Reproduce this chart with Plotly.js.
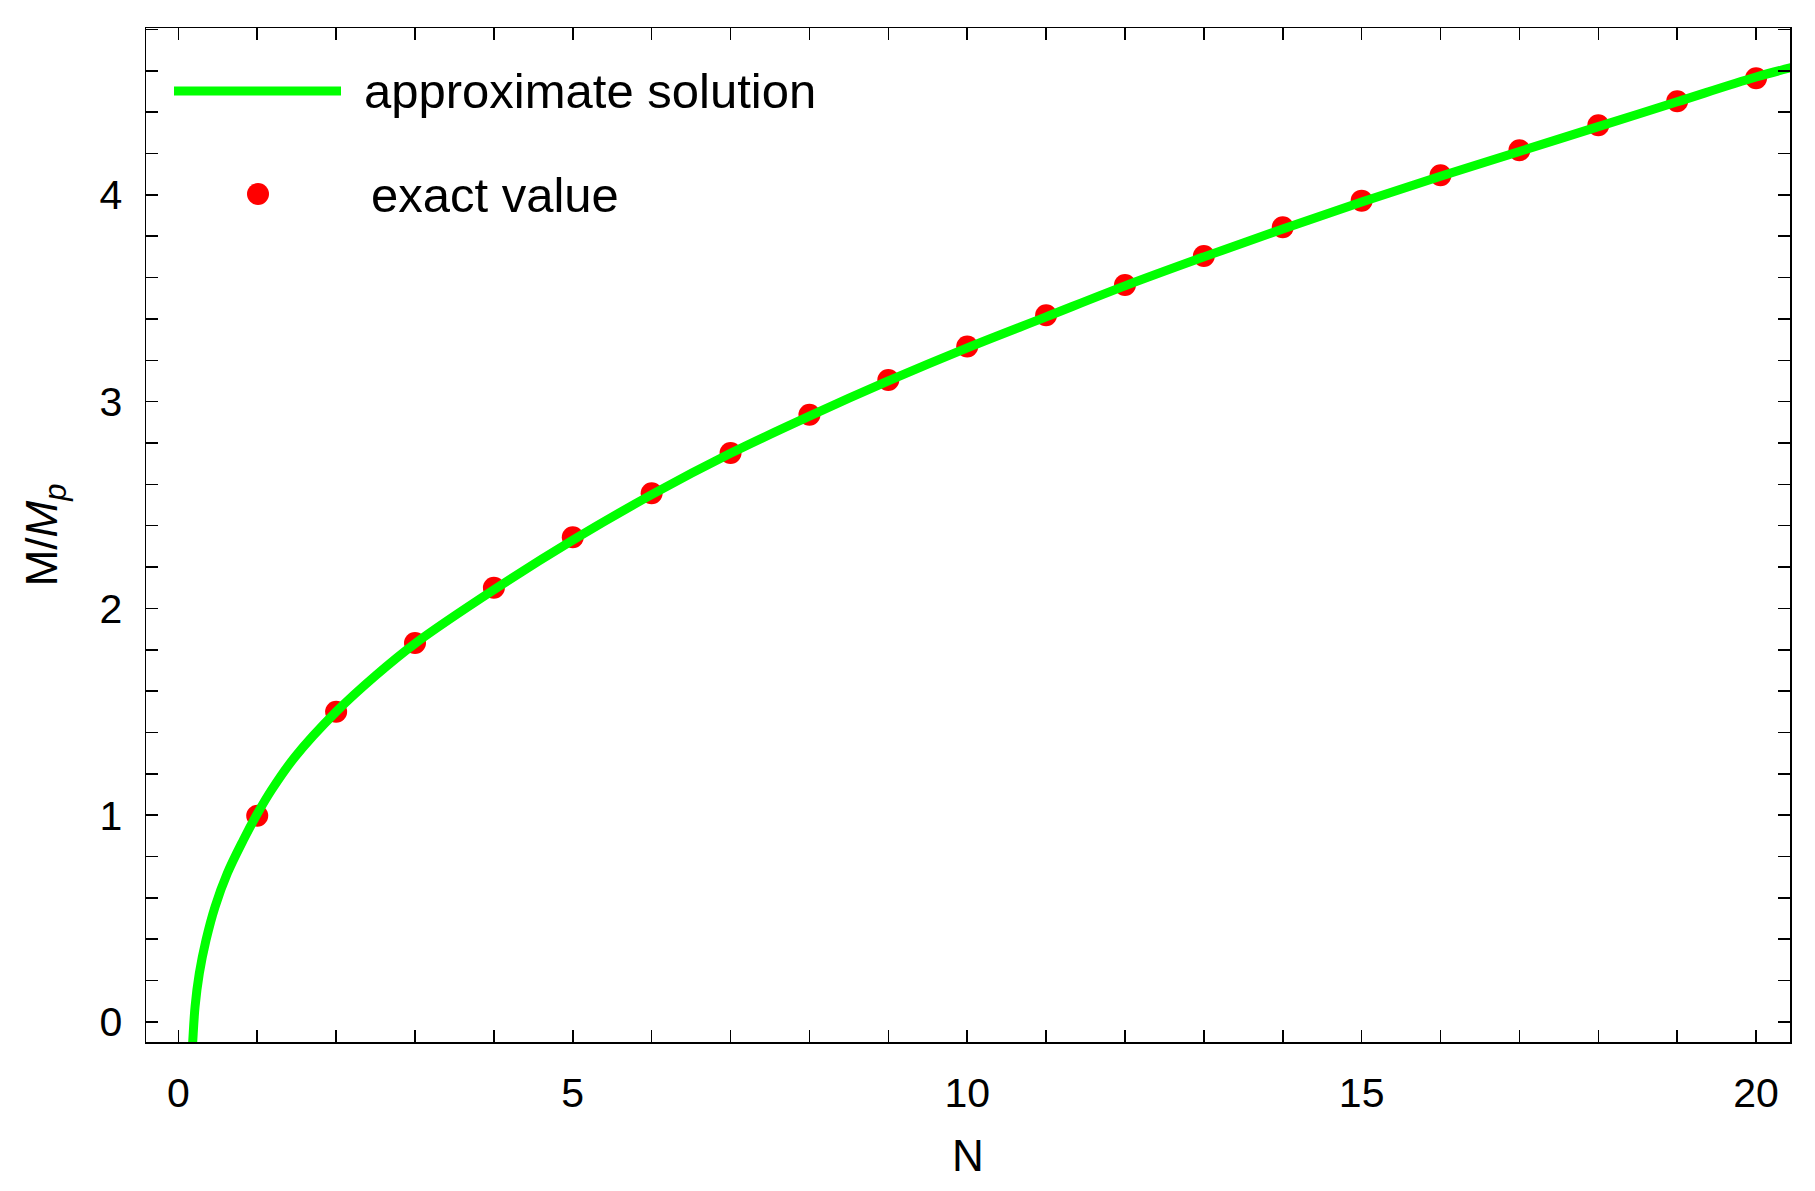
<!DOCTYPE html>
<html>
<head>
<meta charset="utf-8">
<script src="https://cdn.plot.ly/plotly-3.0.1.min.js"></script>
<style>
  html, body { margin: 0; padding: 0; background: #fff; }
  #chart { width: 1815px; height: 1191px; }
</style>
</head>
<body>
<div id="chart"></div>
<script>
// exact values at integer N
const exactN = [1, 2, 3, 4, 5, 6, 7, 8, 9, 10, 11, 12, 13, 14, 15, 16, 17, 18, 19, 20];
const exactM = [0.997, 1.50, 1.833, 2.10, 2.344, 2.557, 2.752, 2.937, 3.105, 3.267,
                3.418, 3.564, 3.704, 3.843, 3.972, 4.095, 4.216, 4.337, 4.453, 4.564];

// approximate solution curve, sampled along the drawn line
const approxN = [0.172, 0.182, 0.212, 0.266, 0.351, 0.465, 0.621, 0.824, 0.985, 1.18, 1.479, 2.0, 2.5, 3.0,
                 4, 5, 6, 7, 8, 9, 10, 11, 12, 13, 14, 15, 16, 17, 18, 19, 20, 20.6];
const approxM = [-0.16, -0.097, 0.074, 0.235, 0.396, 0.557, 0.719, 0.88, 0.996, 1.121, 1.282, 1.5, 1.675, 1.83,
                 2.09, 2.33, 2.55, 2.75, 2.93, 3.10, 3.26, 3.41, 3.56, 3.70, 3.835, 3.965, 4.09, 4.21, 4.33, 4.45, 4.57, 4.63];

const xTicks = [0, 5, 10, 15, 20];
const yTicks = [0, 1, 2, 3, 4];

const legendLabels = ['approximate solution', 'exact value'];

const W = 1815, H = 1191;
const L = 146, R = 1790, T = 28, B = 1042;
// pixel -> paper helpers for the hand-placed legend
const px = x => (x - L) / (R - L);
const py = y => (B - y) / (B - T);

const font = 'Liberation Sans, Arial, sans-serif';

const traces = [
    {
        x: exactN, y: exactM,
        type: 'scatter', mode: 'markers',
        marker: { color: 'rgb(255,0,0)', size: 22 },
        showlegend: false
    },
    {
        x: approxN, y: approxM,
        type: 'scatter', mode: 'lines',
        line: { color: 'rgb(0,255,0)', width: 9, shape: 'spline', smoothing: 1 },
        showlegend: false
    }
];

const axisCommon = {
    showline: true, linecolor: '#000', linewidth: 1.5,
    mirror: 'ticks', ticks: 'inside', ticklen: 12, tickwidth: 1.5, tickcolor: '#000',
    showgrid: false, zeroline: false,
    tickfont: { family: font, size: 41, color: '#000' }
};

const layout = {
    width: W, height: H,
    margin: { l: L, r: W - R, t: T, b: H - B },
    paper_bgcolor: '#fff', plot_bgcolor: '#fff',
    xaxis: Object.assign({}, axisCommon, {
        range: [-0.41, 20.43],
        tickvals: xTicks, ticktext: xTicks.map(String),
        minor: { dtick: 1, ticks: 'inside', ticklen: 12, tickwidth: 1.5, tickcolor: '#000' },
        ticklabelstandoff: 14,
        title: { text: 'N', font: { family: font, size: 44, color: '#000' }, standoff: 25 }
    }),
    yaxis: Object.assign({}, axisCommon, {
        range: [-0.097, 4.807],
        tickvals: yTicks, ticktext: yTicks.map(String),
        minor: { dtick: 0.2, ticks: 'inside', ticklen: 12, tickwidth: 1.5, tickcolor: '#000' },
        ticklabelstandoff: 14,
        title: { text: 'M/<i>M</i><sub><i>p</i></sub>', font: { family: font, size: 44, color: '#000' }, standoff: 28 }
    }),
    shapes: [
        { type: 'line', xref: 'paper', yref: 'paper',
          x0: px(174), x1: px(341), y0: py(91), y1: py(91),
          line: { color: 'rgb(0,255,0)', width: 9 } },
        { type: 'circle', xref: 'paper', yref: 'paper',
          x0: px(247), x1: px(269), y0: py(183), y1: py(205),
          fillcolor: 'rgb(255,0,0)', line: { width: 0 } }
    ],
    annotations: [
        { xref: 'paper', yref: 'paper', x: px(362), y: py(91), xanchor: 'left', yanchor: 'middle',
          text: legendLabels[0], showarrow: false, font: { family: font, size: 49, color: '#000' } },
        { xref: 'paper', yref: 'paper', x: px(369), y: py(195), xanchor: 'left', yanchor: 'middle',
          text: legendLabels[1], showarrow: false, font: { family: font, size: 49, color: '#000' } }
    ]
};

Plotly.newPlot('chart', traces, layout, { displayModeBar: false, staticPlot: true });
</script>
</body>
</html>
